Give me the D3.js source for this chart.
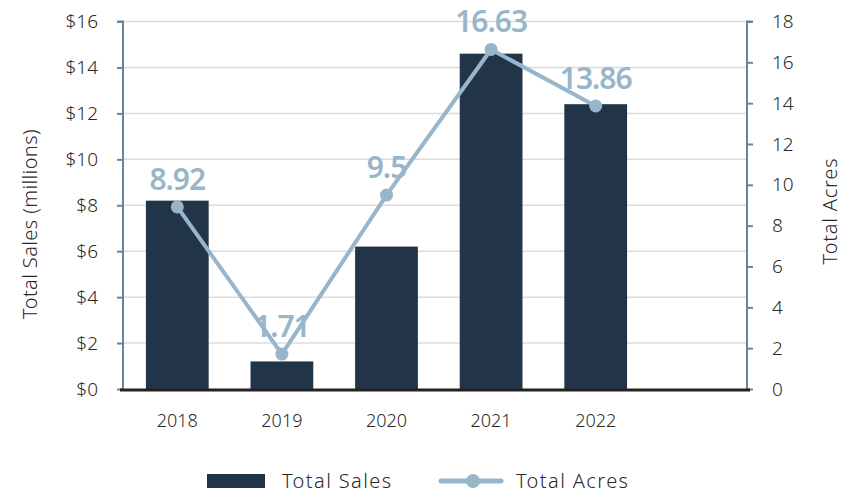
<!DOCTYPE html>
<html>
<head>
<meta charset="utf-8">
<script src="https://cdn.jsdelivr.net/npm/d3@7"></script>
<style>
  body { margin: 0; background: #fff; }
  text { font-family: "Noto Sans", "Open Sans", sans-serif; font-weight: 300; }
</style>
</head>
<body>
<div id="chart"></div>
<script>
// data
const years = ["2018", "2019", "2020", "2021", "2022"];
const totalSales = [8.2, 1.2, 6.2, 14.6, 12.4];     // $ millions
const totalAcres = [8.92, 1.71, 9.5, 16.63, 13.86];
const salesTicks = [0, 2, 4, 6, 8, 10, 12, 14, 16];
const acresTicks = [0, 2, 4, 6, 8, 10, 12, 14, 16, 18];

const width = 851, height = 493;
const barColor = "#223548";
const lineColor = "#98b5ca";
const axisColor = "#66869f";
const textColor = "#2a2a2a";

let svg = d3.select("#chart").append("svg")
    .attr("width", width)
    .attr("height", height);

let plotLeft = 123, plotRight = 747, plotTop = 21.5, plotBottom = 389;

let yScale = d3.scaleLinear().domain([0, 16]).range([plotBottom, plotTop]);
let y2Scale = d3.scaleLinear().domain([0, 18]).range([plotBottom, plotTop]);
let xScale = d3.scaleBand().domain(years).range([125, 648]).paddingInner(0.4).paddingOuter(0.2);

// gridlines
svg.append("g").selectAll("line")
    .data(salesTicks.filter(d => d > 0))
    .enter().append("line")
    .attr("x1", plotLeft).attr("x2", plotRight)
    .attr("y1", d => yScale(d)).attr("y2", d => yScale(d))
    .style("stroke", "#dcdcdc")
    .style("stroke-width", 1.5);

// left axis
let yAxis = d3.axisLeft(yScale).tickValues(salesTicks).tickSize(6).tickPadding(19)
    .tickFormat(d => "$" + d);
let yAx = svg.append("g").attr("transform", "translate(" + plotLeft + ",0)").call(yAxis);
yAx.select(".domain").attr("d", "M-6," + plotTop + "H0V" + plotBottom).style("stroke", axisColor).style("stroke-width", 2);
yAx.selectAll(".tick line").style("stroke", axisColor).style("stroke-width", 2);
yAx.selectAll(".tick text").style("font-size", "19px").style("fill", textColor)
    .style("font-family", "\"Noto Sans\", sans-serif");

// right axis
let y2Axis = d3.axisRight(y2Scale).tickValues(acresTicks).tickSize(6).tickPadding(19);
let y2Ax = svg.append("g").attr("transform", "translate(" + plotRight + ",0)").call(y2Axis);
y2Ax.select(".domain").attr("d", "M6," + plotTop + "H0V" + plotBottom).style("stroke", axisColor).style("stroke-width", 2);
y2Ax.selectAll(".tick line").style("stroke", axisColor).style("stroke-width", 2);
y2Ax.selectAll(".tick text").style("font-size", "19px").style("fill", textColor)
    .style("font-family", "\"Noto Sans\", sans-serif");

// bars
svg.append("g").selectAll("rect")
    .data(years)
    .enter().append("rect")
    .attr("x", d => xScale(d))
    .attr("width", xScale.bandwidth())
    .attr("y", (d, i) => yScale(totalSales[i]))
    .attr("height", (d, i) => yScale(0) - yScale(totalSales[i]))
    .style("fill", barColor);

// baseline
svg.append("line")
    .attr("x1", plotLeft - 3).attr("x2", plotRight + 3)
    .attr("y1", plotBottom + 1).attr("y2", plotBottom + 1)
    .style("stroke", "#222").style("stroke-width", 3);

// x axis labels
let xAxis = d3.axisBottom(xScale).tickSize(0).tickPadding(25);
let xAx = svg.append("g").attr("transform", "translate(0," + plotBottom + ")").call(xAxis);
xAx.select(".domain").remove();
xAx.selectAll(".tick text").style("font-size", "18px").style("fill", textColor)
    .style("font-family", "\"Noto Sans\", sans-serif");

// acres line
let xMid = d => xScale(d) + xScale.bandwidth() / 2;
let line = d3.line()
    .x((d, i) => xMid(years[i]))
    .y(d => y2Scale(d));

svg.append("path")
    .datum(totalAcres)
    .attr("d", line)
    .style("fill", "none")
    .style("stroke", lineColor)
    .style("stroke-width", 4);

svg.append("g").selectAll("circle")
    .data(totalAcres)
    .enter().append("circle")
    .attr("cx", (d, i) => xMid(years[i]))
    .attr("cy", d => y2Scale(d))
    .attr("r", 6.5)
    .style("fill", lineColor);

svg.append("g").selectAll("text")
    .data(totalAcres)
    .enter().append("text")
    .attr("x", (d, i) => xMid(years[i]))
    .attr("y", d => y2Scale(d) - 17)
    .attr("text-anchor", "middle")
    .style("font-size", "30px")
    .style("font-weight", "600")
    .style("letter-spacing", "-1px")
    .style("fill", lineColor)
    .text(d => d);

// axis titles
svg.append("text")
    .attr("transform", "translate(37,224) rotate(-90)")
    .attr("text-anchor", "middle")
    .style("font-size", "20px")
    .style("letter-spacing", "0.4px")
    .style("fill", textColor)
    .text("Total Sales (millions)");

svg.append("text")
    .attr("transform", "translate(837,211) rotate(-90)")
    .attr("text-anchor", "middle")
    .style("font-size", "20px")
    .style("letter-spacing", "0.8px")
    .style("fill", textColor)
    .text("Total Acres");

// legend
let legend = svg.append("g");
legend.append("rect")
    .attr("x", 207).attr("y", 474).attr("width", 58).attr("height", 14)
    .style("fill", barColor);
legend.append("text")
    .attr("x", 282).attr("y", 488)
    .style("font-size", "20px").style("letter-spacing", "1.4px").style("fill", textColor)
    .text("Total Sales");
legend.append("line")
    .attr("x1", 441).attr("x2", 501).attr("y1", 481).attr("y2", 481)
    .style("stroke", lineColor).style("stroke-width", 5).style("stroke-linecap", "round");
legend.append("circle")
    .attr("cx", 473).attr("cy", 481).attr("r", 7)
    .style("fill", lineColor);
legend.append("text")
    .attr("x", 516).attr("y", 488)
    .style("font-size", "20px").style("letter-spacing", "1.4px").style("fill", textColor)
    .text("Total Acres");
</script>
</body>
</html>
